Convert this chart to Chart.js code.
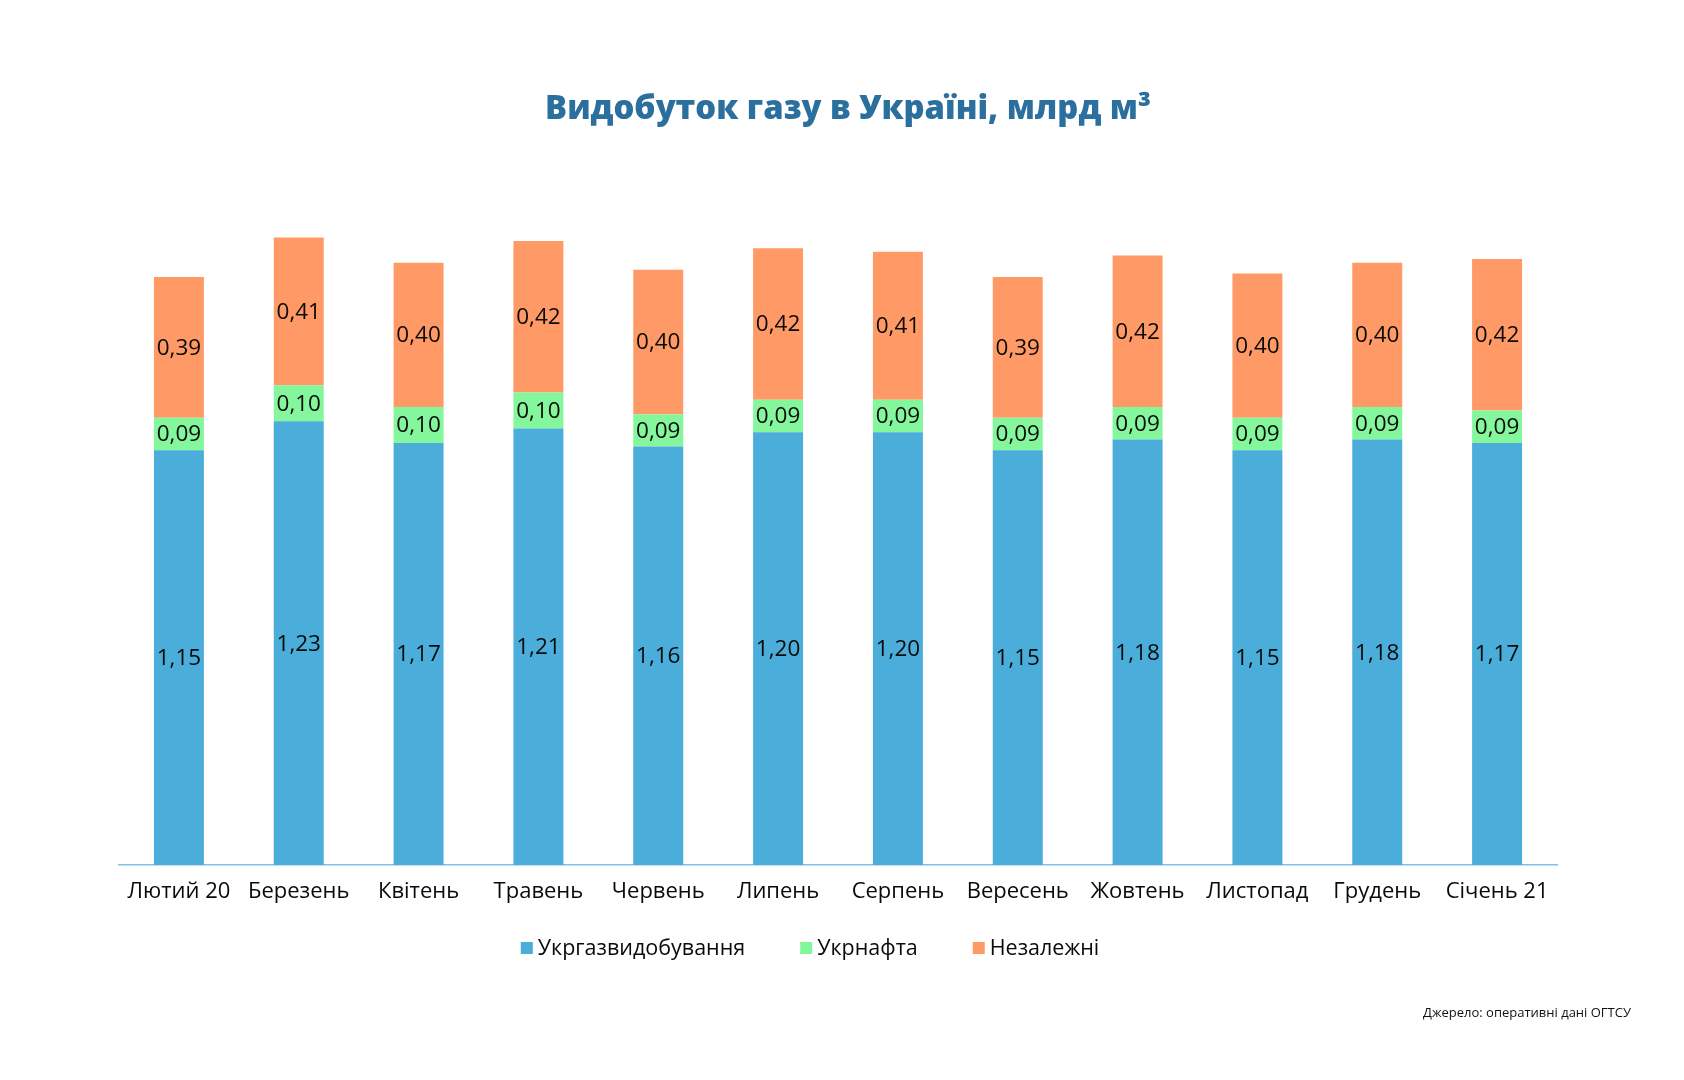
<!DOCTYPE html>
<html>
<head>
<meta charset="utf-8">
<script src="https://cdn.jsdelivr.net/npm/chart.js@4.4.1/dist/chart.umd.min.js"></script>
<style>
  html, body { margin: 0; padding: 0; background: #ffffff; }
  #wrap { width: 1684px; height: 1080px; position: relative; }
</style>
</head>
<body>
<div id="wrap"><canvas id="c" width="1684" height="1080"></canvas></div>
<script>
const titleText = 'Видобуток газу в Україні, млрд м³';
const sourceText = 'Джерело: оперативні дані ОГТСУ';
const categories = ['Лютий 20', 'Березень', 'Квітень', 'Травень', 'Червень', 'Липень', 'Серпень', 'Вересень', 'Жовтень', 'Листопад', 'Грудень', 'Січень 21'];
const seriesNames = ['Укргазвидобування', 'Укрнафта', 'Незалежні'];
const ukrgazvydobuvannya = [1.15, 1.23, 1.17, 1.21, 1.16, 1.20, 1.20, 1.15, 1.18, 1.15, 1.18, 1.17];
const ukrnafta = [0.09, 0.10, 0.10, 0.10, 0.09, 0.09, 0.09, 0.09, 0.09, 0.09, 0.09, 0.09];
const nezalezhni = [0.39, 0.41, 0.40, 0.42, 0.40, 0.42, 0.41, 0.39, 0.42, 0.40, 0.40, 0.42];

const colors = ['#4badda', '#84f79c', '#ff9a66'];

const overlay = {
  id: 'overlay',
  afterDatasetsDraw(chart) {
    const ctx = chart.ctx;
    ctx.save();
    ctx.font = '500 22.5px "Open Sans"';
    ctx.fillStyle = '#0a0a0a';
    ctx.textAlign = 'center';
    ctx.textBaseline = 'middle';
    chart.data.datasets.forEach((ds, i) => {
      const meta = chart.getDatasetMeta(i);
      meta.data.forEach((bar, j) => {
        const v = ds.data[j];
        ctx.fillText(v.toFixed(2).replace('.', ','), bar.x, (bar.y + bar.base) / 2 + 1);
      });
    });
    ctx.restore();
  },
  afterDraw(chart) {
    const ctx = chart.ctx;
    ctx.save();
    // title
    ctx.font = '800 100px "Open Sans"';
    const w100 = ctx.measureText(titleText).width;
    const fs = 100 * 606 / w100;
    ctx.font = '800 ' + fs.toFixed(2) + 'px "Open Sans"';
    ctx.fillStyle = '#2a6f9e';
    ctx.textAlign = 'center';
    ctx.textBaseline = 'middle';
    ctx.fillText(titleText, 848, 110);

    // legend
    ctx.font = '500 21.5px "Open Sans"';
    ctx.textAlign = 'left';
    const box = 12, gap = 5, spacing = 55;
    const items = chart.data.datasets.map(d => ({ label: d.label, color: d.backgroundColor, w: ctx.measureText(d.label).width }));
    const total = items.reduce((s, it) => s + box + gap + it.w, 0) + spacing * (items.length - 1);
    let x = 810 - total / 2;
    const ly = 948;
    items.forEach(it => {
      ctx.fillStyle = it.color;
      ctx.fillRect(x, ly - box / 2, box, box);
      ctx.fillStyle = '#0a0a0a';
      ctx.fillText(it.label, x + box + gap, ly + 1);
      x += box + gap + it.w + spacing;
    });

    // source
    ctx.font = '400 13px "Open Sans"';
    ctx.textAlign = 'right';
    ctx.fillStyle = '#111111';
    ctx.fillText(sourceText, 1631, 1013);
    ctx.restore();
  }
};

new Chart(document.getElementById('c'), {
  type: 'bar',
  data: {
    labels: categories,
    datasets: [
      { label: seriesNames[0], data: ukrgazvydobuvannya, backgroundColor: colors[0] },
      { label: seriesNames[1], data: ukrnafta, backgroundColor: colors[1] },
      { label: seriesNames[2], data: nezalezhni, backgroundColor: colors[2] }
    ]
  },
  options: {
    responsive: false,
    animation: false,
    devicePixelRatio: 1,
    layout: { padding: { top: 140, left: 119, right: 127, bottom: 175 } },
    datasets: { bar: { categoryPercentage: 1, barPercentage: 0.417, borderWidth: 0 } },
    plugins: {
      legend: { display: false },
      title: { display: false },
      tooltip: { enabled: false }
    },
    scales: {
      x: {
        stacked: true,
        grid: { display: false, drawTicks: false },
        border: { display: true, color: '#86bfdf', width: 1.5 },
        ticks: { color: '#0a0a0a', font: { family: 'Open Sans', size: 22, weight: '500' }, padding: 14 },
        afterFit: (s) => { s.height = 40; }
      },
      y: {
        stacked: true,
        display: false,
        min: 0,
        max: 2.01
      }
    }
  },
  plugins: [overlay]
});
</script>
</body>
</html>
